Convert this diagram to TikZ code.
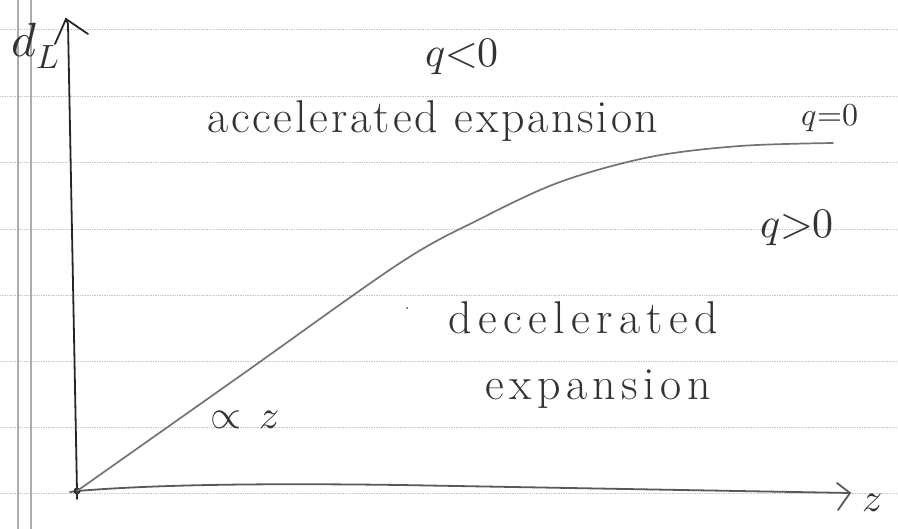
\documentclass[tikz,border=0pt]{standalone}
\usepackage{fontspec}
\usepackage{unicode-math}
\setmainfont{Latin Modern Roman}
\setmathfont{Latin Modern Math}
\begin{document}
\begin{tikzpicture}[x=1pt,y=-1pt,
  ruled/.style={gray!45,line width=0.7pt,densely dotted},
  margin/.style={gray!65,line width=1.6pt},
  axisline/.style={black!85,line width=1.8pt,line cap=round},
  xaxisline/.style={black!65,line width=1.8pt,line cap=round},
  curveline/.style={black!55,line width=1.7pt,line cap=round},
  hand/.style={text=black!80,inner sep=0pt},
  big/.style={hand,font=\fontsize{46}{50}\selectfont},
  sym/.style={hand,font=\fontsize{42}{46}\selectfont},
  small/.style={hand,font=\fontsize{32}{36}\selectfont}]
\useasboundingbox (0,0) rectangle (898,529);
% lined paper
\foreach \yy in {29,96,162,229,295,361,427,493}
  \draw[ruled] (0,\yy) -- (898,\yy);
\draw[margin] (18,0) -- (18,529);
\draw[margin] (31,0) -- (31,529);
% axes
\coordinate (O) at (77,491);
\coordinate (ytop) at (66,19);
\coordinate (xend) at (850,493);
\coordinate (yl) at (55,44);
\coordinate (yr) at (88,34);
\coordinate (xu) at (837,483);
\coordinate (xd) at (838,510);
\coordinate (cend) at (833,143);
\draw[axisline] (77,499) -- (O) -- (68,24) -- (ytop);
\draw[axisline] (yl) -- (ytop) -- (yr);
\draw[xaxisline] (70,492) -- (O) .. controls (150,485) and (250,483) .. (400,485) -- (xend);
\draw[xaxisline] (xu) -- (xend) -- (xd);
\fill[black!80] (O) circle (3.5pt);
% curve
\draw[curveline] plot[smooth,tension=0.55] coordinates
  {(O) (240,376) (400,263) (480,219) (560,182) (650,157) (740,146) (cend)};
% labels
\node[hand,font=\fontsize{48}{52}\selectfont] (dl) at (36,46) {$d_L$};
\node[hand,font=\fontsize{40}{44}\selectfont] (z) at (872,503) {$z$};
\node[sym] (qneg) at (462,57) {$q{<}0$};
\node[big,anchor=base west] (acc) at (207,133) {\addfontfeature{LetterSpace=6}accelerated expansion};
\node[small] (qzero) at (830,118) {$q{=}0$};
\node[sym] (qpos) at (797,228) {$q{>}0$};
\node[big,anchor=base west] (dec) at (448,334) {\addfontfeature{LetterSpace=14}decelerated};
\node[big,anchor=base west] (exp) at (485,400) {\addfontfeature{LetterSpace=12}expansion};
\node[hand,font=\fontsize{40}{44}\selectfont] (prop) at (245,420) {$\propto\,z$};
\fill[black!70] (407,308) circle (1pt);
\end{tikzpicture}
\end{document}
